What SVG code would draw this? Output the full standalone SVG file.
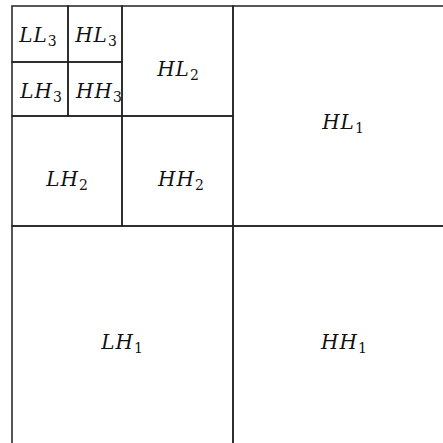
<svg xmlns="http://www.w3.org/2000/svg" width="443" height="443" viewBox="0 0 443 443">
<style>
.cell{fill:none;stroke:#222;stroke-width:1.5}
.lbl{font-family:"DejaVu Serif","Liberation Serif",serif;font-style:italic;font-size:20px;fill:#111;text-anchor:middle;letter-spacing:1px}
.sub{font-style:normal;font-size:14px;letter-spacing:0}
</style>
<rect x="0" y="0" width="443" height="443" fill="#fff"/>
<g id="HL1"><rect class="cell" x="233" y="6" width="215" height="220"/><text class="lbl" x="343" y="129">HL<tspan class="sub" dy="4">1</tspan></text></g>
<g id="LH1"><rect class="cell" x="12" y="226" width="221" height="222"/><text class="lbl" x="122" y="349">LH<tspan class="sub" dy="4">1</tspan></text></g>
<g id="HH1"><rect class="cell" x="233" y="226" width="215" height="222"/><text class="lbl" x="344" y="349">HH<tspan class="sub" dy="4">1</tspan></text></g>
<g id="HL2"><rect class="cell" x="122" y="6" width="111" height="110"/><text class="lbl" x="178" y="76">HL<tspan class="sub" dy="4">2</tspan></text></g>
<g id="LH2"><rect class="cell" x="12" y="116" width="110" height="110"/><text class="lbl" x="67" y="186">LH<tspan class="sub" dy="4">2</tspan></text></g>
<g id="HH2"><rect class="cell" x="122" y="116" width="111" height="110"/><text class="lbl" x="181" y="186">HH<tspan class="sub" dy="4">2</tspan></text></g>
<g id="LL3"><rect class="cell" x="12" y="6" width="56" height="56"/><text class="lbl" x="38" y="42">LL<tspan class="sub" dy="4">3</tspan></text></g>
<g id="HL3"><rect class="cell" x="68" y="6" width="54" height="56"/><text class="lbl" x="96" y="42">HL<tspan class="sub" dy="4">3</tspan></text></g>
<g id="LH3"><rect class="cell" x="12" y="62" width="56" height="54"/><text class="lbl" x="41" y="98">LH<tspan class="sub" dy="4">3</tspan></text></g>
<g id="HH3"><rect class="cell" x="68" y="62" width="54" height="54"/><text class="lbl" x="99" y="98">HH<tspan class="sub" dy="4">3</tspan></text></g>
</svg>
